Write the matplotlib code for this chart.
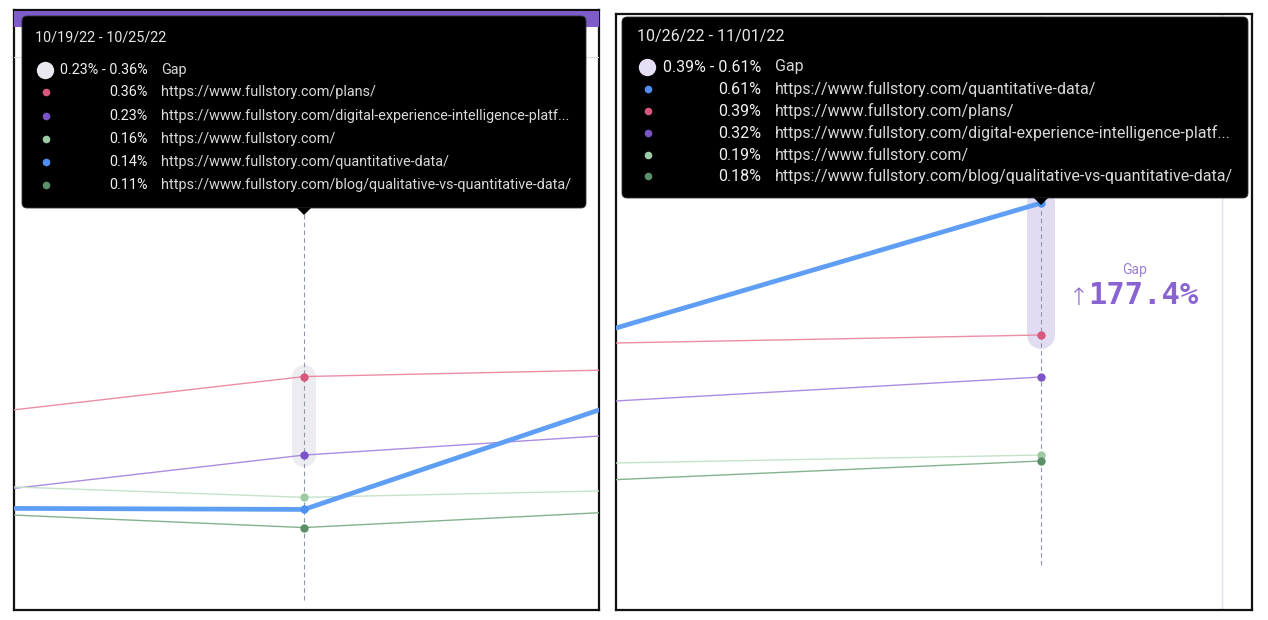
import matplotlib
matplotlib.use("Agg")
import matplotlib.pyplot as plt
from matplotlib.patches import FancyBboxPatch, Polygon, Rectangle
from matplotlib.lines import Line2D

W, H = 1268, 620

# weekly share of sessions (%) per page, week 0 is only partly visible
weeks = [0, 1, 2]
week_labels = ["10/12/22 - 10/18/22", "10/19/22 - 10/25/22", "10/26/22 - 11/01/22"]
pages = [
    "https://www.fullstory.com/plans/",
    "https://www.fullstory.com/digital-experience-intelligence-platf...",
    "https://www.fullstory.com/",
    "https://www.fullstory.com/quantitative-data/",
    "https://www.fullstory.com/blog/qualitative-vs-quantitative-data/",
]
plans = [0.20, 0.36, 0.39]
dxi = [0.07, 0.23, 0.32]
home = [0.21, 0.16, 0.19]
quant = [0.145, 0.14, 0.61]
blog = [0.17, 0.11, 0.18]
gap_change = "177.4%"

series = [plans, dxi, home, quant, blog]
line_colors = ["#ea8ea4", "#ab8de0", "#c6e2cb", "#5f9ef5", "#84b38f"]
dot_colors = ["#d9577c", "#7b55c7", "#9ccaa5", "#4f8ff0", "#5a8f67"]
widths = [1.0, 1.0, 1.0, 3.4, 1.0]

fig = plt.figure(figsize=(W / 100, H / 100), dpi=100)
fig.patch.set_facecolor("white")


def px_axes(x0, y0, x1, y1):
    return fig.add_axes([x0 / W, 1 - y1 / H, (x1 - x0) / W, (y1 - y0) / H])


def fx(x):
    return x / W


def fy(y):
    return 1 - y / H


def draw_panel(ax, xlim, ylim, hover, band_color, band_lw, dash_bottom):
    ax.set_xlim(*xlim)
    ax.set_ylim(*ylim)
    ax.set_xticks([])
    ax.set_yticks([])
    for s in ax.spines.values():
        s.set_color("#111111")
        s.set_linewidth(1.6)
    vals = [s[hover] for s in series]
    top = sorted(vals, reverse=True)[:2]
    ax.plot([hover, hover], [top[1], top[0]], lw=band_lw, color=band_color,
            solid_capstyle="round", zorder=1)
    ax.vlines(hover, dash_bottom, ylim[1], colors="#8d96a8", lw=0.8,
              linestyles=(0, (4, 3)), zorder=2)
    for s, lc, dc, lw in zip(series, line_colors, dot_colors, widths):
        ax.plot(weeks, s, color=lc, lw=lw, zorder=3 if lw < 2 else 4)
        ax.plot([hover], [s[hover]], "o", ms=6, color=dc, mec="none", zorder=5)


def draw_tooltip(box, tip_x, hover, fs, date_xy, rows_y, dot_x, val_right, url_left, gap_color):
    x0, y0, x1, y1 = box
    fig.add_artist(FancyBboxPatch((fx(x0), fy(y1)), fx(x1 - x0), (y1 - y0) / H,
                                  boxstyle="round,pad=0,rounding_size=0.004",
                                  mutation_aspect=W / H,
                                  transform=fig.transFigure, facecolor="black",
                                  edgecolor="#333333", lw=0.6, zorder=10))
    fig.add_artist(Polygon([(fx(tip_x - 7), fy(y1)), (fx(tip_x + 7), fy(y1)),
                            (fx(tip_x), fy(y1 + 7))], closed=True,
                           transform=fig.transFigure, facecolor="black",
                           edgecolor="none", zorder=10))
    fig.text(fx(date_xy[0]), fy(date_xy[1]), week_labels[hover], fontsize=fs,
             color="#e6e6e6", va="center", ha="left", family="Roboto", zorder=11)
    order = sorted(range(len(series)), key=lambda i: -series[i][hover])
    vals = [series[i][hover] for i in order]
    # gap row
    fig.add_artist(Line2D([fx(dot_x)], [fy(rows_y[0])], marker="o", ms=12.5,
                          color=gap_color, mec="none", transform=fig.transFigure, zorder=11))
    fig.text(fx(val_right), fy(rows_y[0]), f"{vals[1]:.2f}% - {vals[0]:.2f}%",
             fontsize=fs, color="#f0f0f0", va="center", ha="right",
             family="Roboto", zorder=11)
    fig.text(fx(url_left), fy(rows_y[0]), "Gap", fontsize=fs, color="#d8d8d8",
             va="center", ha="left", family="Roboto", zorder=11)
    for y, i in zip(rows_y[1:], order):
        fig.add_artist(Line2D([fx(dot_x + 1)], [fy(y)], marker="o", ms=5.5,
                              color=dot_colors[i], mec="none",
                              transform=fig.transFigure, zorder=11))
        fig.text(fx(val_right), fy(y), f"{series[i][hover]:.2f}%", fontsize=fs,
                 color="#f0f0f0", va="center", ha="right", family="Roboto", zorder=11)
        fig.text(fx(url_left), fy(y), pages[i], fontsize=fs, color="#d8d8d8",
                 va="center", ha="left", family="Roboto", zorder=11)


# left panel: hovering week 1
ax1 = px_axes(14, 10, 599, 610)
draw_panel(ax1, (0.6556, 1.3504), (-0.0265, 0.9669), 1, "#ececf1", 17.3, -0.01)
ax1.add_patch(Rectangle((0, 0.972), 1, 0.027, transform=ax1.transAxes,
                        facecolor="#7d5bc9", edgecolor="none", zorder=6))
ax1.plot([0, 1], [0.9217, 0.9217], transform=ax1.transAxes, color="#dcdce4",
         lw=0.8, zorder=6)

# right panel: hovering week 2
ax2 = px_axes(616, 14, 1252, 610)
draw_panel(ax2, (1.5568, 2.22), (-0.0683, 0.925), 2, "#e2dcf3", 20.2, 0.0067)
ax2.axvline(2.189, color="#dfe0ea", lw=1.0, zorder=0)
ax2.text(0.816, 0.571, "Gap", transform=ax2.transAxes, fontsize=10,
         color="#9d80d6", ha="center", va="center", family="Roboto")
ax2.text(0.728, 0.524, "\u2191", transform=ax2.transAxes, fontsize=17,
         color="#8a63d2", ha="center", va="center", family="DejaVu Sans",
         fontweight="light")
ax2.text(0.7425, 0.527, gap_change, transform=ax2.transAxes, fontsize=22,
         color="#8a63d2", ha="left", va="center", family="DejaVu Sans Mono",
         fontweight="bold")

draw_tooltip((22, 16, 586, 208), 304, 1, 10.4, (35, 37),
             [70, 92, 116, 139, 162, 185], 45, 148, 161, "#e9e9ef")
draw_tooltip((622, 17, 1248, 198), 1041, 2, 11.5, (637, 37),
             [67, 89, 111, 133, 155, 176], 647, 761, 775, "#e6dff5")

fig.savefig("out.png", dpi=100, facecolor="white")
